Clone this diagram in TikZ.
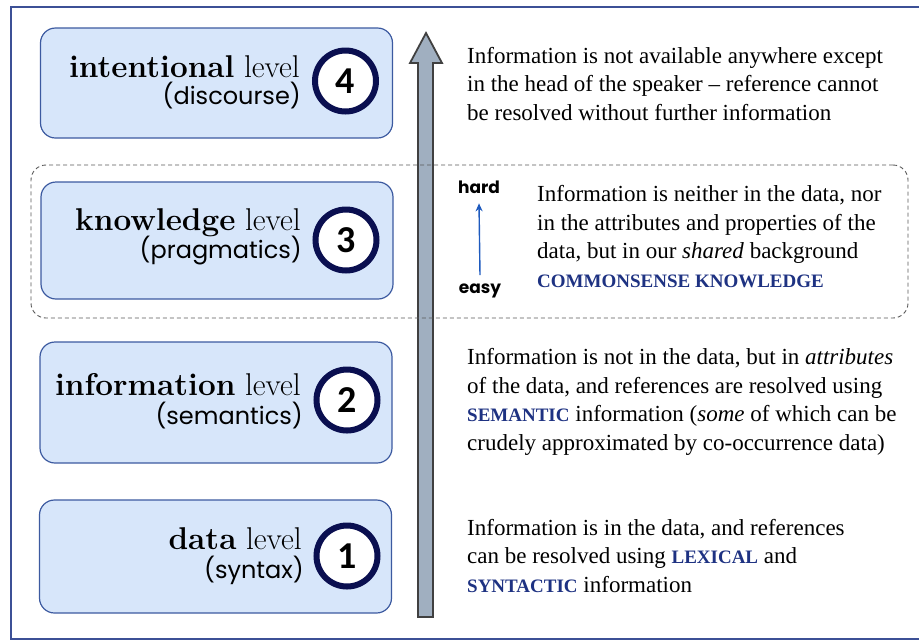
\documentclass[tikz,border=0pt]{standalone}
\usepackage{fontspec}
\usetikzlibrary{arrows.meta}
\newfontfamily\timesf{Liberation Serif}
\newfontfamily\gothic{Poppins}
\newfontfamily\calib{Carlito}
\definecolor{boxfill}{RGB}{215,230,250}
\definecolor{boxblue}{RGB}{60,90,160}
\definecolor{navy}{RGB}{10,15,80}
\definecolor{arrowgray}{RGB}{160,175,192}
\definecolor{textblue}{RGB}{30,50,130}
\definecolor{frameblue}{RGB}{60,80,150}
\definecolor{hardblue}{RGB}{30,90,190}
\newcommand{\kw}[1]{{\bfseries\color{textblue}\fontsize{19}{19}\selectfont #1}}
\begin{document}
\begin{tikzpicture}[x=1pt,y=-1pt,
  levelbox/.style={draw=boxblue, fill=boxfill, rounded corners=15pt, line width=1.2pt, minimum width=352pt},
  numcirc/.style={circle, draw=navy, line width=6pt, fill=white, minimum size=61pt, inner sep=0pt, font=\calib\bfseries\fontsize{38}{38}\selectfont},
  toplabel/.style={anchor=base east, inner sep=0pt, font=\fontsize{31.5}{31.5}\selectfont},
  sublabel/.style={anchor=base east, inner sep=0pt, font=\gothic\fontsize{24}{24}\selectfont},
  desc/.style={anchor=base west, inner sep=0pt, align=left, font=\timesf\fontsize{23}{28.5}\selectfont},
  hardeasy/.style={inner sep=0pt, anchor=base, font=\gothic\bfseries\fontsize{17}{17}\selectfont},
  bigarrow/.style={fill=arrowgray, draw=black!75, line width=1.8pt, line join=miter},
  groupbox/.style={draw=black!65, dash pattern=on 4pt off 3pt, rounded corners=15pt, line width=0.9pt},
  frame/.style={draw=frameblue, line width=1.3pt}]
\useasboundingbox (0,0) rectangle (919,641);
\draw[frame] (11,7) rectangle (935,639);
% level boxes
\node[levelbox, minimum height=110pt] (b4) at (216.5,83) {};
\node[levelbox, minimum height=117pt] (b3) at (217,240.5) {};
\node[levelbox, minimum height=121pt] (b2) at (216,402.5) {};
\node[levelbox, minimum height=113pt] (b1) at (215.5,556.5) {};
% big arrow
\draw[bigarrow] (418,617) -- (418,63) -- (410,63) -- (426,33) -- (442,63) -- (433,63) -- (433,617) -- cycle;
% dashed group
\node[groupbox, minimum width=877pt, minimum height=153pt] (grp) at (469.5,241.5) {};
% circles
\node[numcirc] (c4) at (345.5,81) {4};
\node[numcirc] (c3) at (346,240) {3};
\node[numcirc] (c2) at (347,400) {2};
\node[numcirc] (c1) at (347,556) {1};
% labels
\node[toplabel] (l4a) at (300,77) {\textbf{intentional} level};
\node[sublabel] (l4b) at (301,104) {(discourse)};
\node[toplabel] (l3a) at (301,230) {\textbf{knowledge} level};
\node[sublabel] (l3b) at (302,258) {(pragmatics)};
\node[toplabel] (l2a) at (301,395) {\textbf{information} level};
\node[sublabel] (l2b) at (303,424) {(semantics)};
\node[toplabel] (l1a) at (302,549) {\textbf{data} level};
\node[sublabel] (l1b) at (304,578) {(syntax)};
% descriptions (anchor = baseline of the last line)
\node[desc] (t4) at (467,120) {Information is not available anywhere except\\in the head of the speaker – reference cannot\\be resolved without further information};
\node[desc] (t3) at (537,287) {Information is neither in the data, nor\\in the attributes and properties of the\\data, but in our \textit{shared} background\\\kw{COMMONSENSE KNOWLEDGE}};
\node[desc] (t2) at (467,450) {Information is not in the data, but in \textit{attributes}\\of the data, and references are resolved using\\\kw{SEMANTIC} information (\textit{some} of which can be\\crudely approximated by co-occurrence data)};
\node[desc] (t1) at (467,592) {Information is in the data, and references\\can be resolved using \kw{LEXICAL} and\\\kw{SYNTACTIC} information};
% hard / easy
\node[hardeasy] (hard) at (479,193) {hard};
\node[hardeasy] (easy) at (480,293) {easy};
\draw[hardblue, line width=1.4pt, -{Stealth[length=8pt,width=7pt]}] ([yshift=8pt]easy.north) -- ([yshift=-10pt]hard.south);
\end{tikzpicture}
\end{document}
